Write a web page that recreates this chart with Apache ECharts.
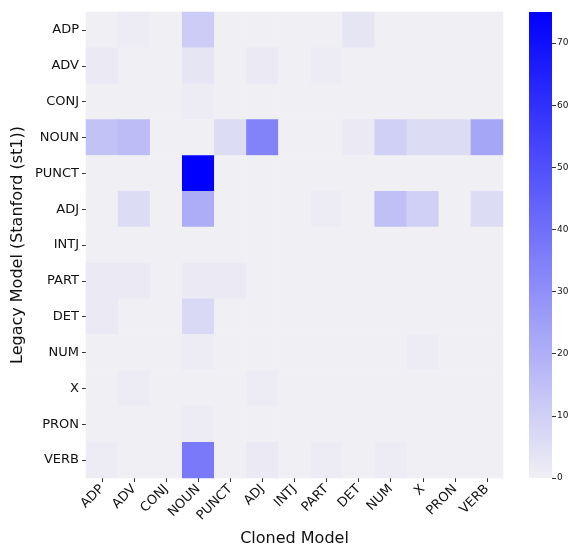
<!DOCTYPE html>
<html><head><meta charset="utf-8">
<script src="https://cdn.jsdelivr.net/npm/echarts@6/dist/echarts.min.js"></script>
<style>html,body{margin:0;padding:0;background:#fff}#c{width:573px;height:547px}</style>
</head><body><div id="c"></div>
<script>
var categories = ['ADP','ADV','CONJ','NOUN','PUNCT','ADJ','INTJ','PART','DET','NUM','X','PRON','VERB'];
// rows = Legacy Model, columns = Cloned Model
var rowADP   = [0, 1, 0, 11, 0, 0, 0, 0, 3, 0, 0, 0, 0];
var rowADV   = [2, 0, 0, 3, 0, 2, 0, 1, 0, 0, 0, 0, 0];
var rowCONJ  = [0, 0, 0, 1, 0, 0, 0, 0, 0, 0, 0, 0, 0];
var rowNOUN  = [14, 16, 0, 0, 6, 34, 0, 0, 2, 10, 6, 6, 23];
var rowPUNCT = [0, 0, 0, 75, 0, 0, 0, 0, 0, 0, 0, 0, 0];
var rowADJ   = [0, 6, 0, 21, 0, 0, 0, 1, 0, 15, 10, 0, 6];
var rowINTJ  = [0, 0, 0, 0, 0, 0, 0, 0, 0, 0, 0, 0, 0];
var rowPART  = [2, 2, 0, 2, 2, 0, 0, 0, 0, 0, 0, 0, 0];
var rowDET   = [2, 0, 0, 7, 0, 0, 0, 0, 0, 0, 0, 0, 0];
var rowNUM   = [0, 0, 0, 1, 0, 0, 0, 0, 0, 0, 1, 0, 0];
var rowX     = [0, 1, 0, 0, 0, 1, 0, 0, 0, 0, 0, 0, 0];
var rowPRON  = [0, 0, 0, 1, 0, 0, 0, 0, 0, 0, 0, 0, 0];
var rowVERB  = [1, 0, 0, 37, 0, 2, 0, 1, 0, 1, 0, 0, 0];
var colorbarTicks = [0, 10, 20, 30, 40, 50, 60, 70];
var vmax = 75;

var rows = [rowADP,rowADV,rowCONJ,rowNOUN,rowPUNCT,rowADJ,rowINTJ,rowPART,rowDET,rowNUM,rowX,rowPRON,rowVERB];
var data = [];
rows.forEach(function(r, yi){ r.forEach(function(v, xi){ data.push([xi, yi, v]); }); });

var font = 'DejaVu Sans';
var chart = echarts.init(document.getElementById('c'), null, {renderer:'canvas'});
chart.setOption({
  backgroundColor: '#fff',
  animation: false,
  textStyle: {fontFamily: font},
  grid: [
    {left: 86, top: 12, width: 417, height: 466, outerBoundsMode: 'none', containLabel: false},
    {left: 529, top: 12, width: 23, height: 466, outerBoundsMode: 'none', containLabel: false}
  ],
  xAxis: [
    {type: 'category', data: categories, gridIndex: 0,
     axisLine: {show: false},
     axisTick: {show: true, alignWithLabel: true, length: 4, lineStyle: {color: '#333'}},
     axisLabel: {rotate: 45, color: '#111', fontSize: 13, fontFamily: font, margin: 9, interval: 0},
     splitLine: {show: false},
     name: 'Cloned Model', nameLocation: 'middle', nameGap: 53, nameMoveOverlap: false,
     nameTextStyle: {fontSize: 16, color: '#111', fontFamily: font}},
    {type: 'category', data: ['c'], gridIndex: 1, show: false}
  ],
  yAxis: [
    {type: 'category', data: categories, gridIndex: 0, inverse: true,
     axisLine: {show: false},
     axisTick: {show: true, alignWithLabel: true, length: 4, lineStyle: {color: '#333'}},
     axisLabel: {color: '#111', fontSize: 13, fontFamily: font, margin: 7, interval: 0},
     splitLine: {show: false},
     name: 'Legacy Model (Stanford (st1))', nameLocation: 'middle', nameGap: 60, nameMoveOverlap: false,
     nameTextStyle: {fontSize: 16, color: '#111', fontFamily: font}},
    {type: 'value', gridIndex: 1, min: 0, max: vmax, position: 'right',
     axisLine: {show: false},
     axisTick: {show: true, length: 4, lineStyle: {color: '#333'}, customValues: colorbarTicks},
     axisLabel: {color: '#111', fontSize: 9, fontFamily: font, margin: 5, customValues: colorbarTicks},
     splitLine: {show: false}}
  ],
  visualMap: {show: false, min: 0, max: vmax, seriesIndex: 0, dimension: 2,
    inRange: {color: ['#f0eff4', '#0000ff']}},
  series: [
    {type: 'heatmap', xAxisIndex: 0, yAxisIndex: 0, data: data,
     itemStyle: {borderWidth: 0}, emphasis: {disabled: true}},
    {type: 'bar', xAxisIndex: 1, yAxisIndex: 1, data: [vmax], barWidth: '100%',
     silent: true,
     itemStyle: {color: new echarts.graphic.LinearGradient(0, 1, 0, 0, [
       {offset: 0, color: '#f0eff4'}, {offset: 1, color: '#0000ff'}])}}
  ]
});
</script></body></html>
